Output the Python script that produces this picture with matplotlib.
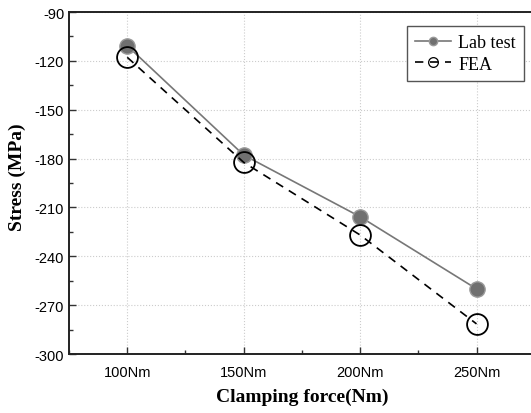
import matplotlib.pyplot as plt
from matplotlib.ticker import MultipleLocator

# data
force = [100, 150, 200, 250]
force_labels = ['100Nm', '150Nm', '200Nm', '250Nm']
lab_test = [-110.7, -177.8, -215.7, -260.0]
fea = [-117.8, -182.3, -226.9, -281.5]

plt.rcParams['font.family'] = 'Liberation Sans'
plt.rcParams['axes.unicode_minus'] = False

fig = plt.figure(figsize=(5.31, 4.14), dpi=100)
ax = fig.add_axes([0.130, 0.1425, 0.877, 0.826])

ax.plot(force, lab_test, '-', color='#777777', lw=1.2,
        marker='o', ms=11, mfc='#707070', mec='#9a9a9a', mew=1.0,
        label='Lab test', zorder=3)
ax.plot(force, fea, '--', color='black', lw=1.2, dashes=(5, 4),
        marker='o', ms=15, mfc='none', mec='black', mew=1.3,
        label='FEA', zorder=4)

ax.set_xlim(75, 275)
ax.set_ylim(-300, -90)
ax.set_xticks(force)
ax.set_xticklabels(force_labels)
ax.xaxis.set_minor_locator(MultipleLocator(25))
ax.yaxis.set_major_locator(MultipleLocator(30))
ax.yaxis.set_minor_locator(MultipleLocator(15))
ax.tick_params(which='both', direction='in', labelsize=10.5, color='#333333')
ax.tick_params(which='major', length=5, width=1)
ax.tick_params(which='minor', length=3, width=1)
ax.tick_params(axis='x', pad=8)
for s in ax.spines.values():
    s.set_linewidth(1.4)
    s.set_color('#222222')

ax.grid(True, which='major', linestyle=':', color='#cccccc', lw=0.8)

ax.set_xlabel('Clamping force(Nm)', family='Liberation Serif',
              fontweight='bold', fontsize=14, labelpad=6)
ax.set_ylabel('Stress (MPa)', family='Liberation Serif',
              fontweight='bold', fontsize=14)
ax.yaxis.set_label_coords(-0.092, 0.52)

leg = ax.legend(loc='upper right', bbox_to_anchor=(0.977, 0.959),
                borderaxespad=0,
                prop={'family': 'Liberation Serif', 'size': 13},
                fancybox=False, framealpha=1, edgecolor='#555555',
                handlelength=2.0, borderpad=0.45,
                labelspacing=0.25, handletextpad=0.4)
leg.get_frame().set_linewidth(1.0)
leg.legend_handles[0].set_markersize(6)
leg.legend_handles[1].set_markersize(7)
leg.legend_handles[1].set_markeredgewidth(0.9)

fig.savefig('out.png', dpi=100)
